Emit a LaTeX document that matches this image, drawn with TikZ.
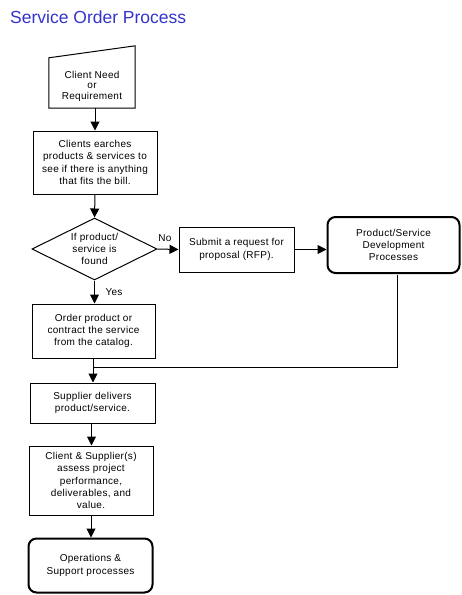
\documentclass[tikz,border=0pt]{standalone}
\usepackage{fontspec}
\setmainfont{Liberation Sans}
\newfontfamily\bodyfont{Liberation Sans}[LetterSpace=3]
\usetikzlibrary{shapes.geometric,arrows.meta,calc}
\definecolor{titleblue}{RGB}{51,51,204}
\tikzset{
  box/.style={draw, line width=1pt, minimum width=#1, inner sep=0pt, align=center, font=\bodyfont\fontsize{10}{12.3}\selectfont},
  rbox/.style={box=#1, line width=2pt, rounded corners=8pt},
  dec/.style={draw, diamond, line width=1pt, inner sep=0pt, aspect=2, align=center, font=\bodyfont\fontsize{10}{12.3}\selectfont},
  lbl/.style={font=\bodyfont\fontsize{10}{12}\selectfont, inner sep=0pt},
  arr/.style={line width=1pt, -{Triangle[length=9pt,width=9pt]}},
  ln/.style={line width=1pt}
}
\begin{document}
\begin{tikzpicture}[x=1pt,y=-1pt]
\useasboundingbox (0,0) rectangle (461,595);
\node[anchor=base west, inner sep=0pt, text=titleblue, font=\fontsize{17.5}{20}\selectfont] (title) at (10,23) {Service Order Process};

% manual input
\node[minimum width=86pt, minimum height=62pt, inner sep=0pt] (need) at (92,77) {};
\draw[ln] (need.south west) -- (need.south east) -- (need.north east) -- ([yshift=-12pt]need.north west) -- cycle;
\node[align=center, inner sep=0pt, font=\bodyfont\fontsize{10}{10.5}\selectfont] (needtxt) at (92,86) {Client Need\\or\\Requirement};

\node[box=124pt, minimum height=63pt] (search) at (95,162.5) {Clients earches\\products \& services to\\see if there is anything\\that fits the bill.};
\node[dec, minimum width=125pt, minimum height=62pt] (decide) at (94.5,249) {If product/\\service is\\found};
\node[box=115pt, minimum height=45pt] (rfp) at (236.5,249.5) {Submit a request for\\proposal (RFP).};
\node[rbox=132pt, minimum height=56pt] (dev) at (393.5,245) {Product/Service\\Development\\Processes};
\node[box=123pt, minimum height=54pt] (order) at (93.5,331) {Order product or\\contract the service\\from the catalog.};
\node[box=125pt, minimum height=40pt] (supp) at (92.5,403) {Supplier delivers\\product/service.};
\node[box=124pt, minimum height=69pt] (assess) at (91,480.5) {Client \& Supplier(s)\\assess project\\performance,\\deliverables, and\\value.};
\node[rbox=124pt, minimum height=54pt] (ops) at (90.5,565.5) {Operations \&\\Support processes};

\draw[arr] (need.south -| search.north) -- (search.north);
\draw[arr] (search.south) -- (decide.north);
\draw[arr] (decide.east) -- (rfp.west);
\draw[arr] (rfp.east) -- (rfp.east -| dev.west);
\draw[arr] (decide.south) -- (decide.south |- order.north);
\coordinate (m) at (93,367);
\draw[ln] (order.south -| m) -- (m);
\draw[ln] ([xshift=3.5pt,yshift=-1pt]dev.south) |- (m);
\draw[arr] (m) -- (m |- supp.north);
\draw[arr] ([xshift=-1pt]supp.south) -- ([xshift=-1pt]supp.south |- assess.north);
\draw[arr] (assess.south) -- (assess.south |- ops.north);

\node[lbl] (no) at (165,238) {No};
\node[lbl] (yes) at (114,292) {Yes};
\end{tikzpicture}
\end{document}
